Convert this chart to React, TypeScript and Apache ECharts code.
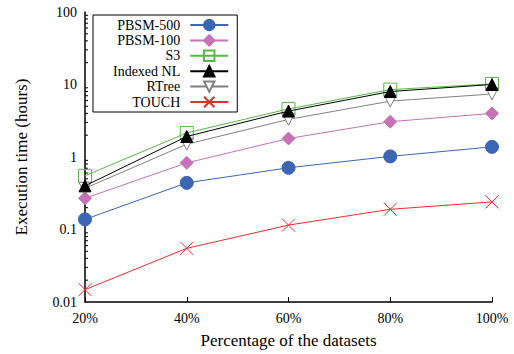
import React, { useEffect, useRef } from "react";
import * as echarts from "echarts";

const categories = ["20%", "40%", "60%", "80%", "100%"];
const pbsm500 = [0.138, 0.44, 0.71, 1.02, 1.38];
const pbsm100 = [0.27, 0.83, 1.8, 3.07, 4.0];
const s3 = [0.55, 2.15, 4.6, 8.5, 10.2];
const indexedNL = [0.4, 1.92, 4.3, 8.0, 10.0];
const rtree = [0.37, 1.5, 3.3, 5.9, 7.4];
const touch = [0.0148, 0.055, 0.115, 0.19, 0.24];
const yTickLabels = ["0.01", "0.1", "1", "10", "100"];
const minorTickValues: number[] = [];
[0.01, 0.1, 1, 10].forEach((d) => {
  for (let k = 2; k <= 9; k++) minorTickValues.push(+(d * k).toPrecision(3));
});

const FONT = "Liberation Serif";

export default function App() {
  const ref = useRef<HTMLDivElement>(null);
  useEffect(() => {
    if (!ref.current) return;
    const chart = echarts.init(ref.current, undefined, { renderer: "svg" });
    const mk = (
      name: string,
      data: number[],
      color: string,
      symbol: string,
      size: number,
      fill: string,
      z: number
    ) => ({
      name,
      type: "line",
      data,
      symbol,
      symbolSize: size,
      showSymbol: true,
      z,
      lineStyle: { color, width: 1 },
      itemStyle: { color: fill, borderColor: color, borderWidth: 1 },
    });
    chart.setOption({
      animation: false,
      backgroundColor: "#fff",
      grid: { left: 85, right: 22, top: 12, bottom: 48 },
      legend: {
        orient: "vertical",
        left: 93,
        top: 15,
        align: "right",
        itemWidth: 38,
        itemHeight: 13,
        itemGap: 1.4,
        padding: [3, 8, 3, 20],
        backgroundColor: "#fff",
        borderColor: "#000",
        borderWidth: 1,
        borderRadius: 0,
        textStyle: { fontFamily: FONT, fontSize: 14, color: "#000", padding: [0, 5, 0, 0] },
        data: ["PBSM-500", "PBSM-100", "S3", "Indexed NL", "RTree", "TOUCH"],
      },
      xAxis: {
        type: "category",
        data: categories,
        boundaryGap: false,
        name: "Percentage of the datasets",
        nameLocation: "middle",
        nameGap: 30,
        nameTextStyle: { fontFamily: FONT, fontSize: 17, color: "#000" },
        axisLine: { lineStyle: { color: "#000", width: 1.5 } },
        axisTick: { inside: true, length: 5, lineStyle: { color: "#000" } },
        axisLabel: { fontFamily: FONT, fontSize: 14, color: "#000", margin: 9 },
        splitLine: { show: false },
      },
      yAxis: {
        type: "log",
        logBase: 10,
        min: 0.01,
        max: 100,
        name: "Execution time (hours)",
        nameLocation: "middle",
        nameGap: 55,
        nameTextStyle: { fontFamily: FONT, fontSize: 17, color: "#000" },
        axisLine: { show: true, lineStyle: { color: "#000", width: 1.5 } },
        axisTick: { inside: true, length: 6, lineStyle: { color: "#000" } },
        axisLabel: {
          fontFamily: FONT,
          fontSize: 14,
          color: "#000",
          margin: 8,
          formatter: (v: number) => {
            const i = Math.round(Math.log10(v)) + 2;
            return yTickLabels[i] ?? String(v);
          },
        },
        splitLine: { show: false },
      },
      series: [
        {
          type: "custom",
          name: "minor",
          silent: true,
          data: minorTickValues.map((v) => [0, v]),
          renderItem: (params: any, api: any) => {
            const p = api.coord([0, api.value(1)]);
            return {
              type: "line",
              shape: { x1: p[0], y1: p[1], x2: p[0] + 3, y2: p[1] },
              style: { stroke: "#000", lineWidth: 1 },
            };
          },
          z: 1,
        },
        mk("PBSM-500", pbsm500, "#3c65b4", "circle", 13, "#3c65b4", 2),
        mk("PBSM-100", pbsm100, "#c572b6", "diamond", 13, "#c572b6", 3),
        mk("S3", s3, "#58b845", "rect", 13, "transparent", 4),
        mk("Indexed NL", indexedNL, "#000000", "triangle", 12, "#000000", 5),
        mk("RTree", rtree, "#808080", "path://M0,0L10,0L5,9Z", 12, "#ffffff", 4),
        mk("TOUCH", touch, "#ee2b2b", "path://M0,0L10,10M10,0L0,10", 13, "transparent", 3),
      ],
    });
    return () => chart.dispose();
  }, []);
  return <div ref={ref} style={{ width: 514, height: 354, position: "absolute", left: 0, top: 0 }} />;
}
